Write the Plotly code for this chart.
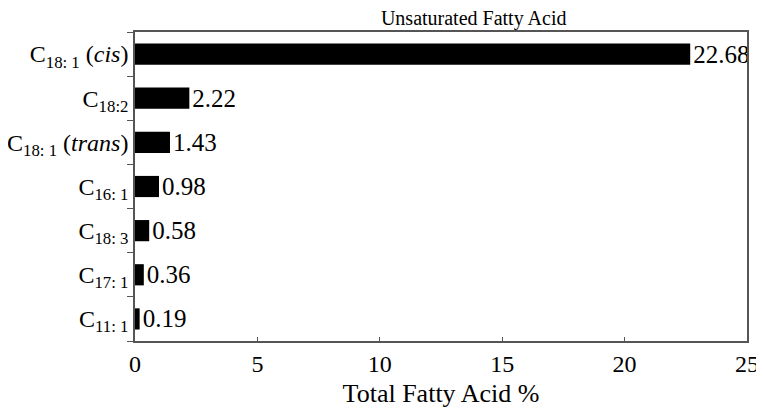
import plotly.graph_objects as go

# categories listed bottom -> top
acid_labels = [
    "C<sub>11: 1</sub>",
    "C<sub>17: 1</sub>",
    "C<sub>18: 3</sub>",
    "C<sub>16: 1</sub>",
    "C<sub>18: 1</sub> (<i>trans</i>)",
    "C<sub>18:2</sub>",
    "C<sub>18: 1</sub> (<i>cis</i>)",
]
acid_values = [0.19, 0.36, 0.58, 0.98, 1.43, 2.22, 22.68]
value_text = ["0.19", "0.36", "0.58", "0.98", "1.43", "2.22", "22.68"]
x_ticks = [0, 5, 10, 15, 20, 25]

FONT = "Liberation Serif"

fig = go.Figure()
fig.add_trace(go.Bar(
    y=acid_labels,
    x=acid_values,
    orientation="h",
    width=0.48,
    marker=dict(color="black", line=dict(width=0)),
    text=value_text,
    textposition="outside",
    constraintext="none",
    textfont=dict(size=25, color="black", family=FONT),
    cliponaxis=False,
))

# page body has an 8px margin, so the figure is sized and offset to suit
fig.update_layout(
    width=756,
    height=403,
    margin=dict(l=127, r=17, t=24, b=70),
    paper_bgcolor="white",
    plot_bgcolor="white",
    font=dict(family=FONT, color="black", size=21),
    showlegend=False,
    title=dict(text="Unsaturated Fatty Acid", x=0.616, xanchor="center",
               y=0.993, yanchor="top", pad=dict(t=0, b=0),
               font=dict(family=FONT, size=20)),
    xaxis=dict(
        range=[0, 25], tickvals=x_ticks, showgrid=False, zeroline=False,
        showline=True, linecolor="#555", linewidth=1.5, mirror=True,
        ticks="inside", ticklen=4, tickcolor="#555",
        tickfont=dict(family=FONT, size=24), automargin=False,
        title=dict(text="Total Fatty Acid %", font=dict(family=FONT, size=26), standoff=8),
    ),
    yaxis=dict(
        showgrid=False, zeroline=False, showline=True, linecolor="#555",
        linewidth=1.5, mirror=True, ticks="outside", tickson="boundaries",
        ticklen=6, tickcolor="#555", tickfont=dict(family=FONT, size=24),
        range=[-0.5, 6.5], automargin=False,
    ),
)

fig.write_html("out.html")
